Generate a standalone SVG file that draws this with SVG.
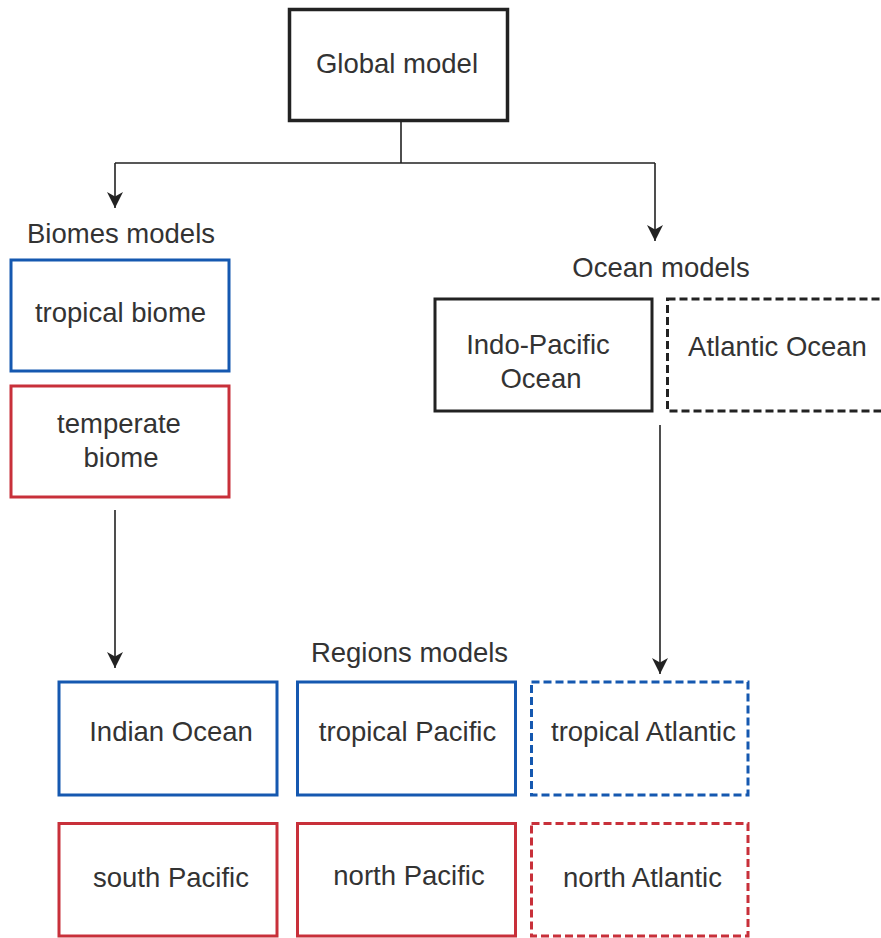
<svg xmlns="http://www.w3.org/2000/svg" width="881" height="938" viewBox="0 0 881 938">
<style>
text{font-family:"Liberation Sans",Arial,sans-serif;font-size:27.5px;fill:#333;text-anchor:middle}
.box{fill:#fff;stroke-width:3}
.blk{stroke:#222}
.blue{stroke:#1558b0}
.red{stroke:#c8303a}
.dash{stroke-dasharray:8 4}
.conn{fill:none;stroke:#222;stroke-width:1.6}
</style>
<defs>
<marker id="arr" markerUnits="userSpaceOnUse" markerWidth="18" markerHeight="18" refX="16" refY="8" orient="auto">
<path d="M0,0 L16,8 L0,16 L4.5,8 z" fill="#222"/>
</marker>
</defs>
<rect width="881" height="938" fill="#fff"/>
<g id="connectors">
<path class="conn" d="M401,121 V163 M115,163 H655"/>
<path class="conn" d="M115,163 V208" marker-end="url(#arr)"/>
<path class="conn" d="M655,163 V241" marker-end="url(#arr)"/>
<path class="conn" d="M115,510 V668" marker-end="url(#arr)"/>
<path class="conn" d="M660,425 V674" marker-end="url(#arr)"/>
</g>
<g id="global-model">
<rect class="box blk" x="289.5" y="9.5" width="218" height="111" style="stroke-width:3.5"/>
<text x="397" y="73">Global model</text>
</g>
<g id="biomes-label"><text x="121" y="243">Biomes models</text></g>
<g id="tropical-biome">
<rect class="box blue" x="11" y="260" width="218" height="111"/>
<text x="120.5" y="322">tropical biome</text>
</g>
<g id="temperate-biome">
<rect class="box red" x="11" y="386" width="218" height="111"/>
<text x="119" y="433">temperate</text>
<text x="121" y="467">biome</text>
</g>
<g id="ocean-label"><text x="661" y="277">Ocean models</text></g>
<g id="indo-pacific">
<rect class="box blk" x="435" y="299" width="217" height="112"/>
<text x="538" y="354">Indo-Pacific</text>
<text x="541" y="388">Ocean</text>
</g>
<g id="atlantic-ocean">
<rect class="box blk dash" x="667.5" y="299" width="225" height="112"/>
<text x="777.5" y="356">Atlantic Ocean</text>
</g>
<g id="regions-label"><text x="409.5" y="662">Regions models</text></g>
<g id="indian-ocean">
<rect class="box blue" x="59" y="682" width="218" height="113"/>
<text x="171" y="741">Indian Ocean</text>
</g>
<g id="tropical-pacific">
<rect class="box blue" x="297.5" y="682" width="218" height="113"/>
<text x="407.5" y="741">tropical Pacific</text>
</g>
<g id="tropical-atlantic">
<rect class="box blue dash" x="531.5" y="682" width="216.5" height="113"/>
<text x="643.5" y="741">tropical Atlantic</text>
</g>
<g id="south-pacific">
<rect class="box red" x="59" y="823.5" width="218" height="112.5"/>
<text x="171" y="887">south Pacific</text>
</g>
<g id="north-pacific">
<rect class="box red" x="297.5" y="823.5" width="218" height="112.5"/>
<text x="409" y="885">north Pacific</text>
</g>
<g id="north-atlantic">
<rect class="box red dash" x="531.5" y="823.5" width="216.5" height="112.5"/>
<text x="642.5" y="887">north Atlantic</text>
</g>
</svg>
